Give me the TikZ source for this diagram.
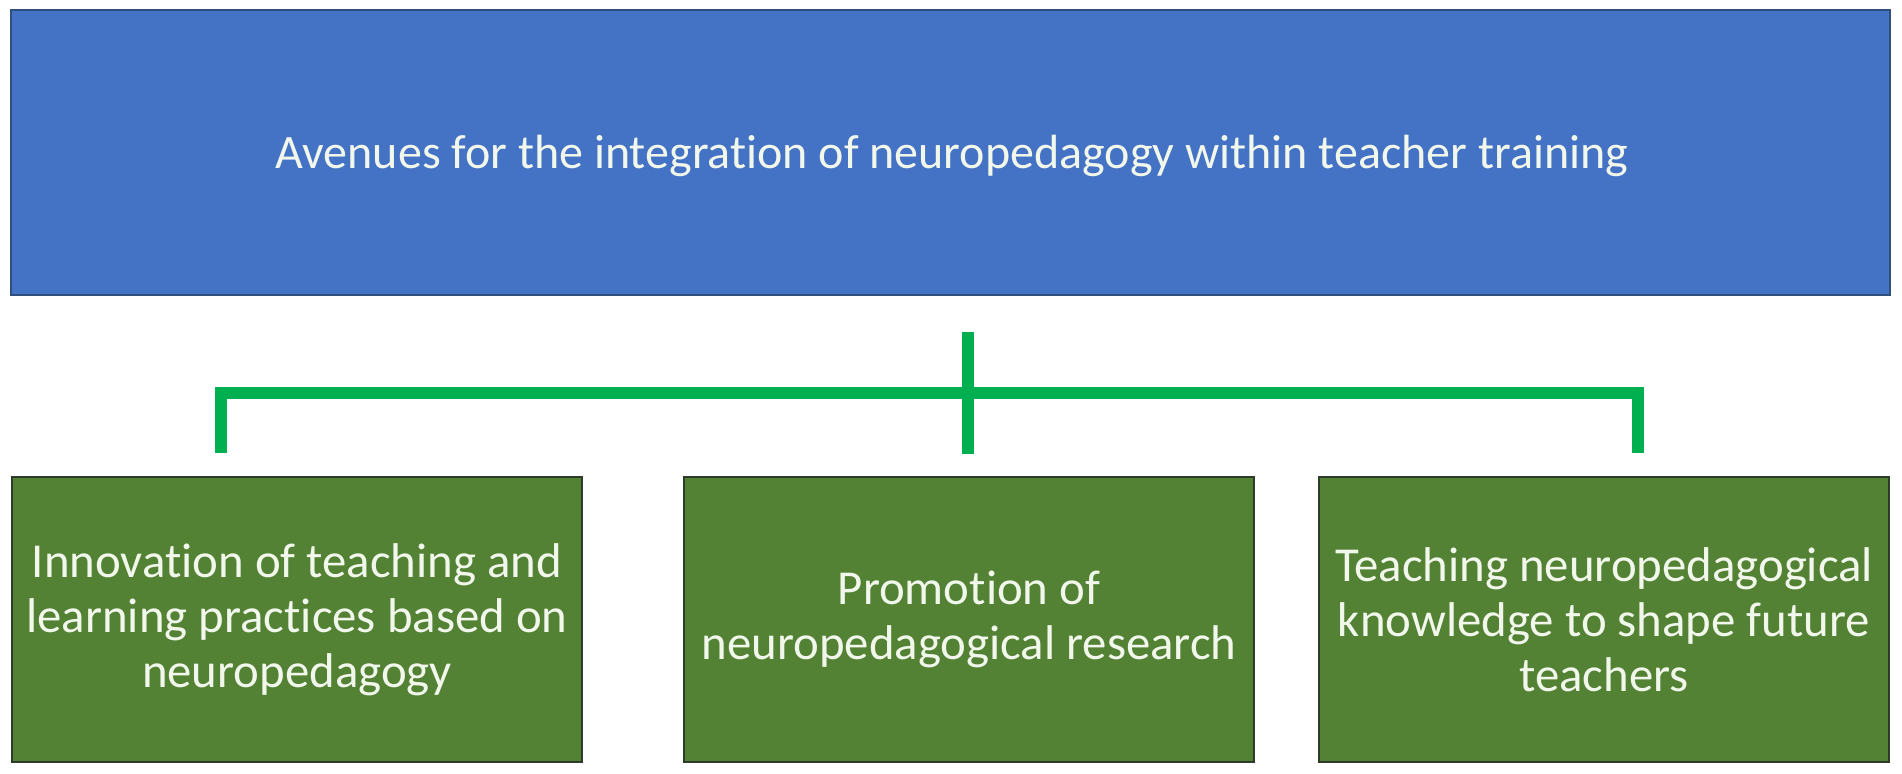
\documentclass[tikz,border=0pt]{standalone}
\usepackage{fontspec}
\setmainfont{Carlito}[Ligatures=NoCommon]
\definecolor{topblue}{HTML}{4472C4}
\definecolor{topedge}{HTML}{2F4F7F}
\definecolor{boxgreen}{HTML}{548235}
\definecolor{boxedge}{HTML}{2E3B2A}
\definecolor{linkgreen}{HTML}{00B050}
\definecolor{txt}{HTML}{F2F7EC}
\begin{document}
\begin{tikzpicture}[x=0.5pt,y=-0.5pt,
  topbox/.style={draw=topedge,line width=1pt,fill=topblue,text=txt,minimum width=939.5pt,minimum height=142.5pt,inner sep=0pt,font=\fontsize{24}{28}\selectfont},
  subbox/.style={draw=boxedge,line width=1pt,fill=boxgreen,text=txt,minimum width=285pt,minimum height=142.5pt,inner sep=0pt,align=center,font=\fontsize{24.4}{27.6}\selectfont},
  link/.style={draw=linkgreen,line width=5.8pt}]
\useasboundingbox (0,0) rectangle (1902,774);
\node[topbox] (top) at (950.5,152.5) {};
\node[text=txt,font=\fontsize{24}{28}\selectfont,inner sep=0pt] (toptext) at (952,156) {Avenues for the integration of neuropedagogy within teacher training};
\node[subbox] (b1) at (297,619.5) {Innovation of teaching and\\learning practices based on\\neuropedagogy};
\node[subbox] (b2) at (969,619.5) {Promotion of\\neuropedagogical research};
\node[subbox] (b3) at (1604,619.5) {Teaching neuropedagogical\\knowledge to shape future\\teachers};
\coordinate (ct) at (968,332);
\coordinate (cb) at (968,454);
\coordinate (lb) at (221,453);
\coordinate (lt) at (221,393);
\coordinate (rt) at (1638,393);
\coordinate (rb) at (1638,453);
\draw[link] (ct) -- (cb);
\draw[link] (lb) -- (lt) -- (rt) -- (rb);
\end{tikzpicture}
\end{document}
